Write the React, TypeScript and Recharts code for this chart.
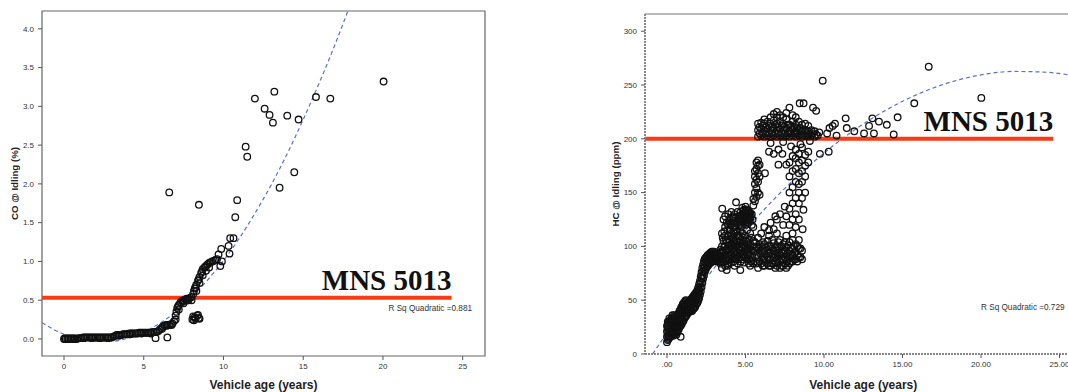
import React from 'react';
import {
  ComposedChart, Scatter, Line, XAxis, YAxis,
  ReferenceLine, ReferenceArea, Label,
} from 'recharts';

type Pt = [number, number];

// ---- CO @ idling (left panel) ----
const coBand: Pt[] = [
  [0, 0], [0.1, 0], [0.2, 0], [0.3, 0], [0.4, 0], [0.5, 0], [0.6, 0], [0.7, 0], [0.8, 0],
  [0.9, 0.01], [1.0, 0.01], [1.1, 0.01], [1.2, 0.02], [1.3, 0.02], [1.4, 0.02], [1.5, 0.02],
  [1.6, 0.02], [1.7, 0.02], [1.8, 0.02], [1.9, 0.02], [2.0, 0.02], [2.1, 0.02], [2.2, 0.02],
  [2.3, 0.02], [2.4, 0.02], [2.5, 0.02], [2.6, 0.02], [2.7, 0.02], [2.8, 0.02], [2.9, 0.02],
  [3.0, 0.02], [3.1, 0.03], [3.2, 0.04], [3.3, 0.05], [3.4, 0.05], [3.5, 0.05], [3.6, 0.05],
  [3.7, 0.06], [3.8, 0.06], [3.9, 0.06], [4.0, 0.06], [4.1, 0.07], [4.2, 0.07], [4.3, 0.07],
  [4.4, 0.07], [4.5, 0.07], [4.6, 0.07], [4.7, 0.08], [4.8, 0.08], [4.9, 0.08], [5.0, 0.08],
  [5.1, 0.08], [5.2, 0.08], [5.3, 0.08], [5.4, 0.08], [5.5, 0.08], [5.6, 0.09], [5.7, 0.09],
  [5.8, 0.09], [5.9, 0.1], [6.0, 0.12], [6.1, 0.14], [6.2, 0.16], [6.3, 0.17], [6.4, 0.18],
  [6.5, 0.18], [6.6, 0.18], [6.7, 0.19], [6.8, 0.2], [6.9, 0.23], [7.0, 0.3], [7.05, 0.35],
  [7.1, 0.4], [7.2, 0.44], [7.3, 0.47], [7.4, 0.49], [7.5, 0.5], [7.6, 0.51], [7.7, 0.52],
  [7.8, 0.52], [7.9, 0.53], [8.0, 0.54], [8.1, 0.58], [8.15, 0.62], [8.2, 0.65], [8.3, 0.7],
  [8.4, 0.75], [8.5, 0.8], [8.6, 0.85], [8.7, 0.9], [8.8, 0.92], [8.9, 0.94], [9.0, 0.96],
  [9.1, 0.98], [9.2, 0.99], [9.3, 1.0], [9.4, 1.01], [9.5, 1.02], [9.6, 1.03],
  [7.0, 0.25], [7.2, 0.38], [7.5, 0.46], [7.8, 0.5], [8.0, 0.5], [8.3, 0.62], [8.5, 0.72],
  [8.7, 0.82], [8.9, 0.88], [9.1, 0.92],
  [0.05, 0.01], [0.25, 0.01], [0.45, 0.01], [0.65, 0.01], [1.25, 0.01], [1.75, 0.01],
  [2.25, 0.01], [2.75, 0.01], [3.45, 0.04], [4.15, 0.06], [4.85, 0.07], [5.45, 0.07],
  [6.15, 0.13], [6.45, 0.17], [6.75, 0.18], [7.15, 0.42], [7.45, 0.48], [7.75, 0.5],
  [8.25, 0.67], [8.45, 0.77], [8.65, 0.87], [8.85, 0.93],
];
const coCluster: Pt[] = [
  [8.05, 0.25], [8.1, 0.29], [8.2, 0.28], [8.25, 0.26], [8.35, 0.3], [8.45, 0.27],
  [8.5, 0.26], [8.15, 0.24], [8.4, 0.31],
];
const coOutliers: Pt[] = [
  [5.74, 0.01], [6.48, 0.02], [6.6, 1.89], [8.46, 1.73], [9.69, 1.09], [9.8, 0.94], [9.9, 1.0],
  [9.86, 1.16], [10.32, 1.2], [10.38, 1.1], [10.42, 1.3], [10.63, 1.3], [10.74, 1.57],
  [10.86, 1.79], [11.39, 2.48], [11.49, 2.35], [11.97, 3.1], [12.58, 2.97], [12.89, 2.89],
  [13.1, 2.79], [13.19, 3.19], [13.52, 1.95], [14.0, 2.88], [14.44, 2.15], [14.71, 2.83],
  [15.8, 3.12], [16.7, 3.1], [20.04, 3.32],
];
const coFit: Pt[] = [
  [-1.38, 0.21], [0, 0.06], [1, 0], [2, -0.03], [3, -0.03], [4, 0.01], [5, 0.09], [6, 0.2],
  [7, 0.35], [8, 0.54], [9, 0.76], [10, 1.01], [11, 1.3], [12, 1.63], [13, 1.99], [14, 2.39],
  [15, 2.83], [16, 3.3], [17, 3.8], [18, 4.34], [19, 4.91],
];
const coLimit = 0.53;
const coLimitEnd = 24.3;
const coXTicks = [0, 5, 10, 15, 20, 25];
const coYTicks = [0, 0.5, 1, 1.5, 2, 2.5, 3, 3.5, 4];
const coRSq = 'R Sq Quadratic =0.881';

// ---- HC @ idling (right panel) ----
const hcBand: Pt[] = [
  [0, 11], [0, 16], [0, 21], [0, 26], [0.05, 30],
  [0.1, 14], [0.1, 19], [0.1, 24], [0.1, 29], [0.15, 33],
  [0.2, 16], [0.2, 21], [0.2, 26], [0.2, 31],
  [0.3, 18], [0.3, 22], [0.3, 27], [0.3, 33], [0.35, 36],
  [0.4, 17], [0.4, 24], [0.4, 29], [0.4, 34],
  [0.5, 20], [0.5, 25], [0.5, 30], [0.5, 35],
  [0.6, 18], [0.6, 23], [0.6, 28], [0.6, 33],
  [0.7, 22], [0.7, 27], [0.7, 32], [0.7, 37],
  [0.8, 25], [0.8, 30], [0.8, 35], [0.8, 40], [0.87, 16],
  [0.9, 27], [0.9, 32], [0.9, 38], [0.9, 43],
  [1.0, 30], [1.0, 35], [1.0, 40], [1.0, 46],
  [1.1, 33], [1.1, 38], [1.1, 44], [1.1, 48],
  [1.2, 35], [1.2, 40], [1.2, 46], [1.2, 50],
  [1.3, 38], [1.3, 42], [1.3, 47],
  [1.4, 39], [1.4, 44], [1.4, 49],
  [1.5, 40], [1.5, 45], [1.5, 50],
  [1.6, 40], [1.6, 46], [1.6, 52],
  [1.7, 42], [1.7, 48], [1.7, 54],
  [1.8, 44], [1.8, 50], [1.8, 56],
  [1.9, 47], [1.9, 52], [1.9, 58],
  [2.0, 50], [2.0, 56], [2.0, 62],
  [2.1, 55], [2.1, 62], [2.1, 68],
  [2.2, 62], [2.2, 70], [2.2, 76],
  [2.3, 70], [2.3, 77], [2.3, 83],
  [2.4, 76], [2.4, 82], [2.4, 88],
  [2.5, 80], [2.5, 85], [2.5, 90],
  [2.6, 82], [2.6, 87], [2.6, 92],
  [2.7, 84], [2.7, 89], [2.7, 93],
  [2.8, 85], [2.8, 90], [2.8, 94],
  [2.9, 86], [2.9, 90], [2.9, 95],
  [3.0, 87], [3.0, 91], [3.0, 95],
  [3.1, 88], [3.1, 92],
  [3.2, 86], [3.2, 90], [3.2, 94],
  [3.3, 88], [3.3, 92],
  [3.4, 84], [3.4, 89], [3.4, 93], [3.4, 97],
];
const hcBandFill: Pt[] = [
  [0.05, 13], [0.05, 18], [0.05, 23], [0.05, 27],
  [0.15, 15], [0.15, 20], [0.15, 25], [0.15, 29],
  [0.25, 17], [0.25, 22], [0.25, 28], [0.25, 32],
  [0.35, 19], [0.35, 24], [0.35, 30],
  [0.45, 20], [0.45, 26], [0.45, 31], [0.45, 36],
  [0.55, 19], [0.55, 24], [0.55, 29], [0.55, 34],
  [0.65, 20], [0.65, 25], [0.65, 30], [0.65, 35],
  [0.75, 23], [0.75, 28], [0.75, 33], [0.75, 38],
  [0.85, 26], [0.85, 31], [0.85, 36], [0.85, 41],
  [0.95, 28], [0.95, 34], [0.95, 40], [0.95, 44],
  [1.05, 31], [1.05, 37], [1.05, 42], [1.05, 47],
  [1.15, 34], [1.15, 40], [1.15, 45], [1.15, 49],
  [1.25, 36], [1.25, 41], [1.25, 46],
  [1.35, 38], [1.35, 43], [1.35, 48],
  [1.45, 40], [1.45, 45], [1.45, 50],
  [1.55, 41], [1.55, 46], [1.55, 51],
  [1.65, 42], [1.65, 47], [1.65, 53],
  [1.75, 43], [1.75, 49], [1.75, 55],
  [1.85, 46], [1.85, 51], [1.85, 57],
  [1.95, 48], [1.95, 54], [1.95, 60],
  [2.05, 52], [2.05, 59], [2.05, 65],
  [2.15, 58], [2.15, 66], [2.15, 72],
  [2.25, 66], [2.25, 73], [2.25, 80],
  [2.35, 73], [2.35, 80], [2.35, 86],
  [2.45, 78], [2.45, 84], [2.45, 89],
  [2.55, 81], [2.55, 86], [2.55, 91],
  [2.65, 83], [2.65, 88], [2.65, 92],
  [2.75, 85], [2.75, 90], [2.75, 94],
  [2.85, 86], [2.85, 91], [2.85, 95],
  [2.95, 87], [2.95, 92], [3.05, 88], [3.05, 93],
  [3.15, 87], [3.15, 91], [3.25, 87], [3.25, 92], [3.35, 86], [3.35, 91],
  [3.45, 88], [3.45, 95],
];
const hcCloud: Pt[] = [
  [3.5, 80], [3.5, 90], [3.5, 100], [3.5, 112], [3.52, 135],
  [3.6, 86], [3.6, 95], [3.6, 105], [3.6, 125],
  [3.7, 82], [3.7, 92], [3.7, 100], [3.7, 110], [3.7, 118], [3.7, 128],
  [3.8, 78], [3.8, 88], [3.8, 96], [3.8, 104], [3.8, 122],
  [3.9, 84], [3.9, 92], [3.9, 100], [3.9, 110], [3.9, 120], [3.9, 130],
  [4.0, 88], [4.0, 96], [4.0, 106], [4.0, 115], [4.0, 126],
  [4.1, 85], [4.1, 93], [4.1, 102], [4.1, 112], [4.1, 122], [4.1, 132],
  [4.2, 90], [4.2, 98], [4.2, 108], [4.2, 118], [4.2, 128],
  [4.3, 82], [4.3, 92], [4.3, 102], [4.3, 112], [4.3, 122], [4.3, 130],
  [4.4, 88], [4.4, 96], [4.4, 106], [4.4, 116], [4.4, 141],
  [4.5, 84], [4.5, 94], [4.5, 104], [4.5, 114], [4.5, 124], [4.5, 132],
  [4.6, 90], [4.6, 100], [4.6, 110], [4.6, 120], [4.6, 128],
  [4.67, 78], [4.7, 86], [4.7, 96], [4.7, 106], [4.7, 118], [4.7, 126], [4.7, 132],
  [4.8, 92], [4.8, 102], [4.8, 112], [4.8, 124], [4.8, 130], [4.8, 136],
  [4.9, 85], [4.9, 95], [4.9, 105], [4.9, 122], [4.9, 128], [4.9, 134],
  [5.0, 90], [5.0, 100], [5.0, 110], [5.0, 120], [5.0, 126], [5.0, 131], [5.0, 137],
  [5.1, 88], [5.1, 98], [5.1, 115], [5.1, 124], [5.1, 129], [5.1, 134],
  [5.2, 84], [5.2, 94], [5.2, 106], [5.2, 122], [5.2, 128], [5.2, 133],
  [5.3, 82], [5.3, 92], [5.3, 102], [5.3, 112], [5.3, 126], [5.3, 131],
  [5.4, 86], [5.4, 96], [5.4, 108], [5.4, 120], [5.4, 130],
  [5.5, 84], [5.5, 95], [5.5, 105], [5.5, 118], [5.5, 138], [5.5, 144],
  [5.6, 142], [5.6, 150], [5.6, 158], [5.6, 165], [5.6, 170],
  [5.7, 146], [5.7, 154], [5.7, 162], [5.7, 172], [5.7, 178],
  [5.8, 150], [5.8, 160], [5.8, 168], [5.8, 175], [5.8, 180],
  [5.9, 148], [5.9, 165], [5.9, 176], [6.24, 168],
];
const hcCloudFill: Pt[] = [
  [3.55, 85], [3.55, 96], [3.55, 108], [3.65, 90], [3.65, 100], [3.65, 114],
  [3.75, 86], [3.75, 97], [3.75, 106], [3.85, 82], [3.85, 94], [3.85, 115],
  [3.95, 88], [3.95, 104], [3.95, 124], [4.05, 92], [4.05, 100], [4.05, 110], [4.05, 120],
  [4.15, 88], [4.15, 98], [4.15, 108], [4.15, 127], [4.25, 86], [4.25, 95], [4.25, 104],
  [4.25, 114], [4.35, 90], [4.35, 100], [4.35, 118], [4.35, 126], [4.45, 92], [4.45, 101],
  [4.45, 110], [4.45, 121], [4.55, 88], [4.55, 98], [4.55, 108], [4.55, 128],
  [4.65, 94], [4.65, 104], [4.65, 114], [4.65, 124], [4.75, 90], [4.75, 100], [4.75, 122],
  [4.75, 129], [4.85, 88], [4.85, 98], [4.85, 108], [4.85, 127], [4.85, 133],
  [4.95, 92], [4.95, 102], [4.95, 125], [4.95, 131], [5.05, 95], [5.05, 105], [5.05, 122],
  [5.05, 128], [5.05, 134], [5.15, 92], [5.15, 102], [5.15, 126], [5.15, 131],
  [5.25, 88], [5.25, 98], [5.25, 124], [5.25, 130], [5.35, 86], [5.35, 97], [5.35, 128],
  [5.45, 90], [5.45, 100], [5.45, 125],
];
const hcLow: Pt[] = [
  [5.6, 86], [5.6, 96], [5.6, 104],
  [5.8, 80], [5.8, 90], [5.8, 98], [5.8, 108],
  [6.0, 84], [6.0, 92], [6.0, 100], [6.0, 112],
  [6.2, 82], [6.2, 88], [6.2, 95], [6.2, 102], [6.2, 118],
  [6.4, 84], [6.4, 90], [6.4, 97], [6.4, 105], [6.5, 110], [6.5, 115],
  [6.6, 82], [6.6, 88], [6.6, 94], [6.6, 100], [6.6, 122],
  [6.8, 84], [6.8, 90], [6.8, 96], [6.8, 103], [6.8, 116], [6.9, 128],
  [7.0, 82], [7.0, 88], [7.0, 94], [7.0, 100], [7.0, 112], [7.0, 125],
  [7.2, 80], [7.2, 86], [7.2, 92], [7.2, 98], [7.2, 106], [7.2, 130],
  [7.4, 82], [7.4, 88], [7.4, 95], [7.4, 102], [7.4, 120], [7.5, 137],
  [7.6, 80], [7.6, 86], [7.6, 92], [7.6, 99], [7.6, 110], [7.6, 128],
  [7.8, 84], [7.8, 90], [7.8, 96], [7.8, 104], [7.8, 135],
  [8.0, 86], [8.0, 92], [8.0, 98], [8.0, 106],
  [8.2, 88], [8.2, 95], [8.2, 102],
  [8.4, 90], [8.4, 98], [8.4, 106],
  [8.6, 88], [8.6, 96], [8.64, 116], [8.69, 134],
];
const hcLowFill: Pt[] = [
  [5.7, 84], [5.7, 92], [5.7, 100], [5.9, 86], [5.9, 94], [5.9, 102],
  [6.1, 82], [6.1, 88], [6.1, 96], [6.1, 104], [6.3, 85], [6.3, 92], [6.3, 99],
  [6.5, 82], [6.5, 88], [6.5, 94], [6.5, 101], [6.7, 84], [6.7, 91], [6.7, 98], [6.7, 106],
  [6.9, 80], [6.9, 86], [6.9, 92], [6.9, 99], [7.1, 84], [7.1, 90], [7.1, 96], [7.1, 104],
  [7.3, 82], [7.3, 88], [7.3, 94], [7.3, 100], [7.5, 84], [7.5, 90], [7.5, 96], [7.5, 104],
  [7.7, 82], [7.7, 88], [7.7, 94], [7.7, 101], [7.9, 86], [7.9, 92], [7.9, 99],
  [8.1, 88], [8.1, 94], [8.1, 100], [8.3, 86], [8.3, 92], [8.3, 100], [8.5, 90], [8.5, 98],
];
const hcColumn: Pt[] = [
  [7.8, 120], [7.8, 150], [7.8, 165], [7.8, 178],
  [8.0, 112], [8.0, 125], [8.0, 140], [8.0, 155], [8.0, 170], [8.0, 184],
  [8.2, 118], [8.2, 130], [8.2, 145], [8.2, 160], [8.2, 172], [8.2, 182], [8.2, 190],
  [8.4, 125], [8.4, 140], [8.4, 150], [8.4, 158], [8.4, 168], [8.4, 178], [8.4, 186],
  [8.6, 145], [8.6, 160], [8.6, 170], [8.6, 180], [8.6, 192],
  [8.8, 150], [8.8, 165], [8.8, 175], [8.8, 185],
  [9.0, 178], [9.0, 188],
  [6.5, 188], [6.8, 186], [7.1, 190], [7.35, 186], [7.1, 176], [7.6, 176], [7.9, 193],
];
const hcTop: Pt[] = [
  [5.8, 202], [5.8, 208], [5.8, 214],
  [6.0, 203], [6.0, 209], [6.0, 215],
  [6.2, 202], [6.2, 208], [6.2, 214], [6.2, 218],
  [6.4, 203], [6.4, 209], [6.4, 216],
  [6.6, 202], [6.6, 208], [6.6, 214], [6.6, 220],
  [6.8, 203], [6.8, 210], [6.8, 217], [6.8, 223],
  [7.0, 202], [7.0, 208], [7.0, 214], [7.0, 220], [7.0, 225],
  [7.2, 203], [7.2, 209], [7.2, 216], [7.2, 222],
  [7.4, 202], [7.4, 208], [7.4, 214], [7.4, 220],
  [7.6, 203], [7.6, 210], [7.6, 218], [7.6, 224],
  [7.8, 202], [7.8, 207], [7.8, 213], [7.8, 229],
  [8.0, 203], [8.0, 209], [8.0, 216], [8.0, 222],
  [8.2, 202], [8.2, 207], [8.2, 213], [8.2, 220],
  [8.4, 203], [8.4, 209], [8.4, 216], [8.45, 233],
  [8.6, 202], [8.6, 207], [8.6, 213], [8.7, 233],
  [8.8, 203], [8.8, 208], [8.8, 214],
  [9.0, 202], [9.0, 207], [9.0, 212],
  [9.2, 203], [9.2, 208], [9.3, 229],
  [9.4, 202], [9.4, 207], [9.5, 226],
  [9.6, 203], [9.7, 206],
  [6.6, 196], [7.4, 197], [8.5, 195], [9.1, 198],
  [5.9, 205], [5.9, 211], [6.1, 205], [6.1, 212], [6.3, 205], [6.3, 211], [6.5, 205],
  [6.5, 212], [6.7, 205], [6.7, 211], [6.9, 205], [6.9, 213], [7.1, 205], [7.1, 211],
  [7.3, 205], [7.3, 212], [7.5, 205], [7.5, 211], [7.7, 205], [7.7, 213], [7.9, 205],
  [7.9, 211], [8.1, 205], [8.1, 211], [8.3, 205], [8.3, 210], [8.5, 204], [8.5, 210],
  [8.7, 204], [8.9, 205], [9.1, 205], [9.3, 205], [9.5, 204],
];
const hcOutliers: Pt[] = [
  [9.92, 254], [9.74, 186], [10.3, 188], [10.2, 205], [10.35, 210], [10.55, 212], [10.7, 214],
  [10.8, 203], [11.38, 219], [11.45, 210], [11.93, 207], [12.55, 205], [12.87, 212],
  [13.08, 219], [13.18, 205], [13.5, 216], [14.0, 213], [14.44, 204], [14.69, 220],
  [15.75, 233], [16.67, 267], [20.02, 238],
];
const hcFit: Pt[] = [
  [-0.91, 0], [0, 19.8], [2, 60.8], [4, 97.9], [6, 131.3], [8, 160.9], [10, 186.7],
  [12, 208.8], [14, 227.1], [16, 241.6], [18, 252.4], [20, 259.4], [22, 262.6],
  [24, 262], [26.4, 257.5],
];
const hcLimit = 200;
const hcLimitEnd = 24.6;
const hcXTicks = [0, 5, 10, 15, 20, 25];
const hcYTicks = [0, 50, 100, 150, 200, 250, 300];
const hcRSq = 'R Sq Quadratic =0.729';

const xy = (pts: Pt[]) => pts.map(([x, y]) => ({ x, y }));

const SANS = "'Liberation Sans', Arial, sans-serif";
const SERIF = "'Liberation Serif', 'Times New Roman', serif";
const tickStyle = { fontSize: 8, fill: '#333', fontFamily: SANS };
const titleProps = { fontSize: 12, fontWeight: 'bold', fill: '#222', fontFamily: SANS };
const FIT_COLOR = '#5a72c4';
const LIMIT_COLOR = '#f73b14';

const Ring = (p: any) => (
  <circle cx={p.cx} cy={p.cy} r={3.3} fill="none" stroke="#111" strokeWidth={1.3} />
);

const mnsLabel = (p: any) => {
  const vb = p.viewBox || {};
  return (
    <text
      x={(vb.x ?? 0) + (vb.width ?? 0)}
      y={(vb.y ?? 0) - 8}
      textAnchor="end"
      fontFamily={SERIF}
      fontWeight="bold"
      fontSize={29}
      fill="#111"
    >
      MNS 5013
    </text>
  );
};

function CoChart() {
  const xDom: [number, number] = [-1.38, 26.4];
  const yDom: [number, number] = [-0.22, 4.23];
  const points = xy([...coBand, ...coCluster, ...coOutliers]);
  return (
    <ComposedChart width={500} height={392} margin={{ top: 11, right: 15, bottom: 0, left: 0 }}>
      <XAxis
        type="number" dataKey="x" domain={xDom} ticks={coXTicks} allowDataOverflow
        height={36} tickSize={4} tickMargin={3} axisLine={false}
        tick={tickStyle} tickLine={{ stroke: '#555' }}
      >
        <Label value="Vehicle age (years)" position="insideBottom" offset={3} {...titleProps} />
      </XAxis>
      <YAxis
        type="number" dataKey="y" domain={yDom} ticks={coYTicks} allowDataOverflow
        width={42} tickSize={4} tickMargin={4} axisLine={false}
        tick={tickStyle} tickLine={{ stroke: '#555' }}
        tickFormatter={(v: number) => v.toFixed(1)}
      />
      <ReferenceArea
        x1={xDom[0]} x2={xDom[1]} y1={yDom[0]} y2={yDom[1]}
        fill="none" fillOpacity={0} stroke="#666" strokeWidth={1.2}
      />
      <Line
        data={xy(coFit)} dataKey="y" type="monotone" dot={false} activeDot={false}
        stroke={FIT_COLOR} strokeWidth={1.2} strokeDasharray="4 3" isAnimationActive={false}
      />
      <Scatter data={points} shape={Ring} isAnimationActive={false} />
      <ReferenceLine
        segment={[{ x: xDom[0], y: coLimit }, { x: coLimitEnd, y: coLimit }]}
        stroke={LIMIT_COLOR} strokeWidth={4}
        label={{ content: mnsLabel }}
      />
    </ComposedChart>
  );
}

function HcChart() {
  const xDom: [number, number] = [-1.4, 26.4];
  const yDom: [number, number] = [0, 316];
  const points = xy([
    ...hcBand, ...hcBandFill, ...hcCloud, ...hcCloudFill,
    ...hcLow, ...hcLowFill, ...hcColumn, ...hcTop, ...hcOutliers,
  ]);
  const dashedAxis = { stroke: '#888', strokeWidth: 2, strokeDasharray: '2 1' };
  return (
    <ComposedChart width={540} height={392} margin={{ top: 14, right: 18.5, bottom: 0, left: 0 }}>
      <XAxis
        type="number" dataKey="x" domain={xDom} ticks={hcXTicks} allowDataOverflow
        height={38} tickSize={4} tickMargin={3} axisLine={dashedAxis}
        tick={tickStyle} tickLine={{ stroke: '#555' }}
        tickFormatter={(v: number) => (v === 0 ? '.00' : v.toFixed(2))}
      >
        <Label value="Vehicle age (years)" position="insideBottom" offset={3} {...titleProps} />
      </XAxis>
      <YAxis
        type="number" dataKey="y" domain={yDom} ticks={hcYTicks} allowDataOverflow
        width={85} tickSize={4} tickMargin={4} axisLine={dashedAxis}
        tick={tickStyle} tickLine={{ stroke: '#555' }}
      />
      <ReferenceLine y={yDom[1]} stroke="#777" strokeWidth={1.2} />
      <Line
        data={xy(hcFit)} dataKey="y" type="monotone" dot={false} activeDot={false}
        stroke={FIT_COLOR} strokeWidth={1.2} strokeDasharray="4 3" isAnimationActive={false}
      />
      <Scatter data={points} shape={Ring} isAnimationActive={false} />
      <ReferenceLine
        segment={[{ x: xDom[0], y: hcLimit }, { x: hcLimitEnd, y: hcLimit }]}
        stroke={LIMIT_COLOR} strokeWidth={4}
        label={{ content: mnsLabel }}
      />
    </ComposedChart>
  );
}

export default function App() {
  return (
    <div
      style={{
        position: 'fixed', left: 0, top: 0, width: 1068, height: 392,
        overflow: 'hidden', background: '#fff',
      }}
    >
      <div style={{ position: 'absolute', left: 0, top: 0 }}>
        <CoChart />
      </div>
      <div style={{ position: 'absolute', left: 560, top: 0 }}>
        <HcChart />
      </div>
      <svg
        width={1068} height={392}
        style={{ position: 'absolute', left: 0, top: 0, pointerEvents: 'none' }}
      >
        <text
          x={14} y={183.5} transform="rotate(-90 14 183.5)" textAnchor="middle"
          dominantBaseline="central" fontFamily={SANS} fontWeight="bold" fontSize={9.7} fill="#222"
        >
          CO @ Idling (%)
        </text>
        <text
          x={615} y={184} transform="rotate(-90 615 184)" textAnchor="middle"
          dominantBaseline="central" fontFamily={SANS} fontWeight="bold" fontSize={9.8} fill="#222"
        >
          HC @ Idling (ppm)
        </text>
        <text x={472} y={310.5} textAnchor="end" fontFamily={SANS} fontSize={8.2} fill="#333">
          {coRSq}
        </text>
        <text x={981} y={309.5} textAnchor="start" fontFamily={SANS} fontSize={8.2} fill="#333">
          {hcRSq}
        </text>
      </svg>
    </div>
  );
}
